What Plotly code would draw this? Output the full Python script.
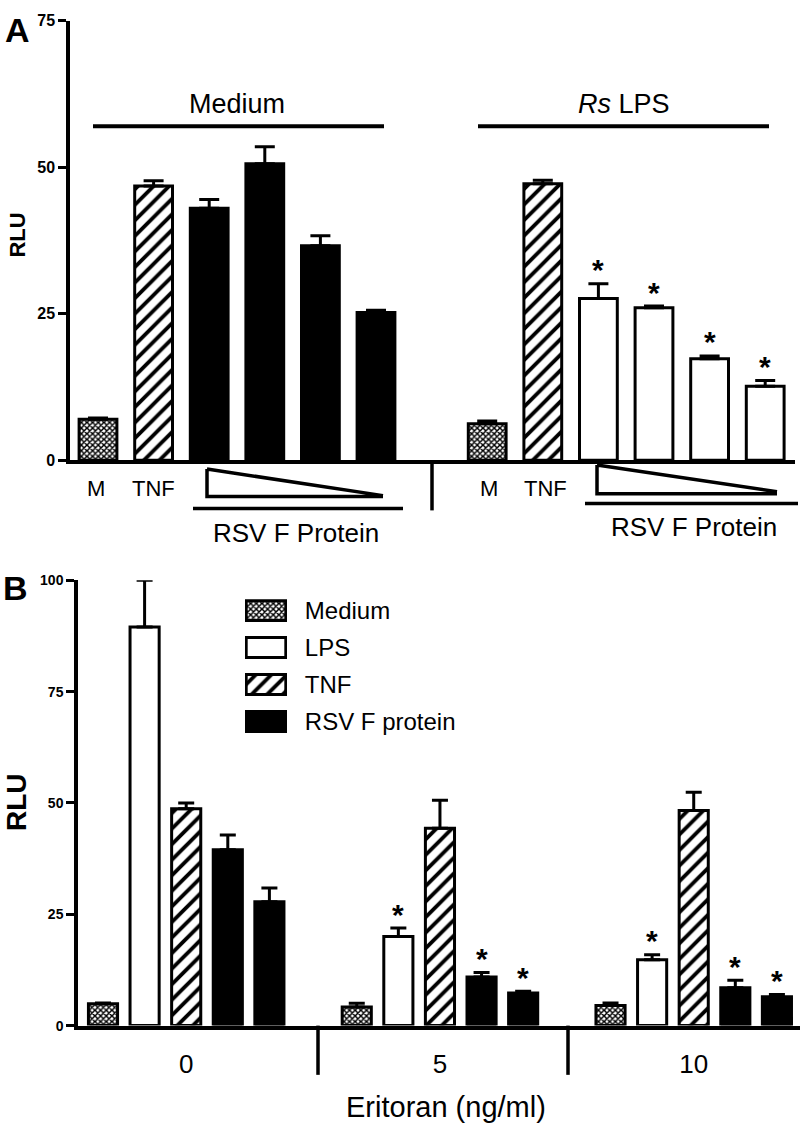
import plotly.graph_objects as go

W, H = 800, 1140

# ---------------- Panel A data ----------------
a_groups = ["Medium", "Rs LPS"]
a_bar_labels = ["M", "TNF", "F1", "F2", "F3", "F4"]
a_medium_vals = [7.0, 46.8, 43.0, 50.6, 36.6, 25.2]
a_medium_err = [0.2, 0.9, 1.5, 2.9, 1.7, 0.4]
a_lps_vals = [6.2, 47.2, 27.6, 26.0, 17.3, 12.6]
a_lps_err = [0.5, 0.6, 2.5, 0.3, 0.5, 1.0]
a_lps_sig = [False, False, True, True, True, True]
a_yticks = [0, 25, 50, 75]

# ---------------- Panel B data ----------------
b_groups = ["0", "5", "10"]
b_medium = [4.9, 4.2, 4.5]
b_medium_err = [0.2, 0.8, 0.6]
b_lps = [89.5, 20.0, 14.8]
b_lps_err = [10.5, 1.9, 1.1]
b_tnf = [48.7, 44.3, 48.3]
b_tnf_err = [1.3, 6.3, 4.1]
b_rsv1 = [39.5, 10.9, 8.5]
b_rsv1_err = [3.3, 1.0, 1.7]
b_rsv2 = [27.8, 7.3, 6.5]
b_rsv2_err = [3.1, 0.4, 0.5]
b_lps_sig = [False, True, True]
b_rsv_sig = [False, True, True]
b_yticks = [0, 25, 50, 75, 100]
legend_labels = ["Medium", "LPS", "TNF", "RSV F protein"]


def PX(x):
    return x / W


def PY(y):
    return 1 - y / H


FONT = "Liberation Sans, Arial, sans-serif"
BLACK = "black"

# bar styles: (fill colour, pattern)
CHECK = ("white", dict(shape="x", size=4, solidity=0.6, fgcolor=BLACK,
                       fgopacity=1, fillmode="replace"))
HATCH = ("white", dict(shape="/", size=11, solidity=0.35, fgcolor=BLACK,
                       fgopacity=1, fillmode="replace"))
WHITE = ("white", dict(shape=""))
FILLED = ("black", dict(shape=""))

fig = go.Figure()


def add_bars(xs, ys, errs, style, xa, ya, width, capw):
    col, pat = style
    fig.add_trace(go.Bar(
        x=xs, y=ys, width=width, xaxis=xa, yaxis=ya,
        marker=dict(color=col, line=dict(color=BLACK, width=3), pattern=pat),
        error_y=dict(type="data", symmetric=False, array=errs,
                     arrayminus=[0] * len(errs), color=BLACK, thickness=3, width=capw),
        showlegend=False, hoverinfo="skip",
    ))


annotations = []
STAR_FONT = dict(family=FONT, size=30, color=BLACK, weight="bold")

# ---------------- Panel A ----------------
A_X0, A_DX = 98.0, 55.6
rsv_style_a = [FILLED, WHITE]
for g, (vals, errs) in enumerate([(a_medium_vals, a_medium_err), (a_lps_vals, a_lps_err)]):
    base = g * 7
    add_bars([base], vals[0:1], errs[0:1], CHECK, "x", "y", 0.68, 10)
    add_bars([base + 1], vals[1:2], errs[1:2], HATCH, "x", "y", 0.68, 10)
    xs = [base + i for i in range(2, len(vals))]
    add_bars(xs, vals[2:], errs[2:], rsv_style_a[g], "x", "y", 0.68, 10)

for i, (v, e, s) in enumerate(zip(a_lps_vals, a_lps_err, a_lps_sig)):
    if s:
        annotations.append(dict(x=7 + i, y=v + e, xref="x", yref="y", text="*",
                                showarrow=False, yanchor="middle", yshift=14,
                                font=STAR_FONT))

# ---------------- Panel B ----------------
B_X0, B_DX, B_G = 103.0, 41.6, 6.1
b_series = [
    (b_medium, b_medium_err, CHECK, [False] * 3),
    (b_lps, b_lps_err, WHITE, b_lps_sig),
    (b_tnf, b_tnf_err, HATCH, [False] * 3),
    (b_rsv1, b_rsv1_err, FILLED, b_rsv_sig),
    (b_rsv2, b_rsv2_err, FILLED, b_rsv_sig),
]
for i, (vals, errs, sty, sig) in enumerate(b_series):
    xs = [g * B_G + i for g in range(len(b_groups))]
    add_bars(xs, vals, errs, sty, "x2", "y2", 0.7, 8)
    for x, v, e, s in zip(xs, vals, errs, sig):
        if s:
            annotations.append(dict(x=x, y=v + e, xref="x2", yref="y2", text="*",
                                    showarrow=False, yanchor="middle", yshift=14,
                                    font=STAR_FONT))

# legend swatches (panel B)
for k, sty in enumerate([CHECK, WHITE, HATCH, FILLED]):
    col, pat = sty
    fig.add_trace(go.Bar(
        y=[k], x=[1], orientation="h", width=0.54, xaxis="x3", yaxis="y3",
        marker=dict(color=col, line=dict(color=BLACK, width=3), pattern=pat),
        showlegend=False, hoverinfo="skip",
    ))


def txt(x, y, s, size, bold=False, angle=0):
    return dict(x=PX(x), y=PY(y), xref="paper", yref="paper", text=s,
                showarrow=False, xanchor="center", yanchor="middle", textangle=angle,
                font=dict(family=FONT, size=size, color=BLACK,
                          weight="bold" if bold else "normal"))


annotations += [
    txt(17, 22, "A", 34, bold=True),
    txt(15, 589, "B", 34, bold=True),
    txt(18, 231, "RLU", 22, bold=True, angle=-90),
    txt(17, 806, "RLU", 28, bold=True, angle=-90),
    txt(237, 97, a_groups[0], 27),
    txt(624, 97, "<i>Rs</i> LPS", 27),
    txt(96, 488, a_bar_labels[0], 22),
    txt(153, 488, a_bar_labels[1], 22),
    txt(296, 533, "RSV F Protein", 26),
    txt(489, 488, a_bar_labels[0], 22),
    txt(545, 488, a_bar_labels[1], 22),
    txt(694, 527, "RSV F Protein", 26),
    txt(446, 1116, "Eritoran (ng/ml)", 29),
]


def line(x0, y0, x1, y1, w=3.5):
    return dict(type="line", xref="paper", yref="paper",
                x0=PX(x0), y0=PY(y0), x1=PX(x1), y1=PY(y1),
                line=dict(color=BLACK, width=w))


def path(pts_list, w=3.5):
    d = ""
    for pts in pts_list:
        d += "M" + " L".join(f"{PX(x):.5f},{PY(y):.5f}" for x, y in pts) + " "
    return dict(type="path", xref="paper", yref="paper", path=d.strip(),
                line=dict(color=BLACK, width=w))


shapes = [
    line(93, 120, 384, 120, 4),
    line(478, 120, 769, 120, 4),
    path([[(207, 468), (383, 495)], [(207, 468), (207, 496), (383, 496)]]),
    line(193, 508, 403, 508),
    path([[(597, 464), (777, 491)], [(597, 464), (597, 493), (777, 493)]]),
    line(585, 503, 798, 503),
    line(432, 459, 432, 510),
    line(318, 1033, 318, 1083),
    line(568, 1033, 568, 1083),
]

tickfont_a = dict(family=FONT, size=16, color=BLACK, weight="bold")
tickfont_b = dict(family=FONT, size=14, color=BLACK, weight="bold")

fig.update_layout(
    width=W, height=H, margin=dict(l=0, r=0, t=0, b=0),
    paper_bgcolor="white", plot_bgcolor="white",
    barmode="overlay", showlegend=False,
    annotations=annotations, shapes=shapes,
    xaxis=dict(domain=[PX(70), PX(795)],
               range=[(70 - A_X0) / A_DX, (795 - A_X0) / A_DX],
               anchor="y", showline=True, linecolor=BLACK, linewidth=3.5,
               showticklabels=False, ticks="", showgrid=False, zeroline=False),
    yaxis=dict(domain=[PY(459), PY(13)], range=[0, 75], anchor="x",
               tickvals=a_yticks, ticks="outside", ticklen=8, tickwidth=3,
               tickcolor=BLACK, showline=True, linecolor=BLACK, linewidth=3.5,
               tickfont=tickfont_a, showgrid=False, zeroline=False),
    xaxis2=dict(domain=[PX(78), 1.0],
                range=[(78 - B_X0) / B_DX, (800 - B_X0) / B_DX],
                anchor="y2", showline=True, linecolor=BLACK, linewidth=3.5,
                tickvals=[g * B_G + 2 for g in range(len(b_groups))],
                ticktext=b_groups, ticks="outside", ticklen=12,
                tickcolor="rgba(0,0,0,0)",
                tickfont=dict(family=FONT, size=26, color=BLACK),
                showgrid=False, zeroline=False),
    yaxis2=dict(domain=[PY(1033), PY(581)], range=[0, 100], anchor="x2",
                tickvals=b_yticks, ticks="outside", ticklen=8, tickwidth=3,
                tickcolor=BLACK, showline=True, linecolor=BLACK, linewidth=3.5,
                tickfont=tickfont_b, showgrid=False, zeroline=False),
    xaxis3=dict(domain=[PX(245), PX(287)], range=[-0.03, 1.03], anchor="y3",
                visible=False, fixedrange=True),
    yaxis3=dict(domain=[PY(743), PY(593)], range=[3.5, -0.5], anchor="x3",
                side="right", tickvals=list(range(len(legend_labels))),
                ticktext=legend_labels, ticks="outside", ticklen=12,
                tickcolor="rgba(0,0,0,0)", showline=False, showgrid=False,
                zeroline=False, tickfont=dict(family=FONT, size=24, color=BLACK)),
)

fig.write_html("out.html", config={"displayModeBar": False},
               post_script="document.body.style.margin='0';document.body.style.overflow='hidden';")
